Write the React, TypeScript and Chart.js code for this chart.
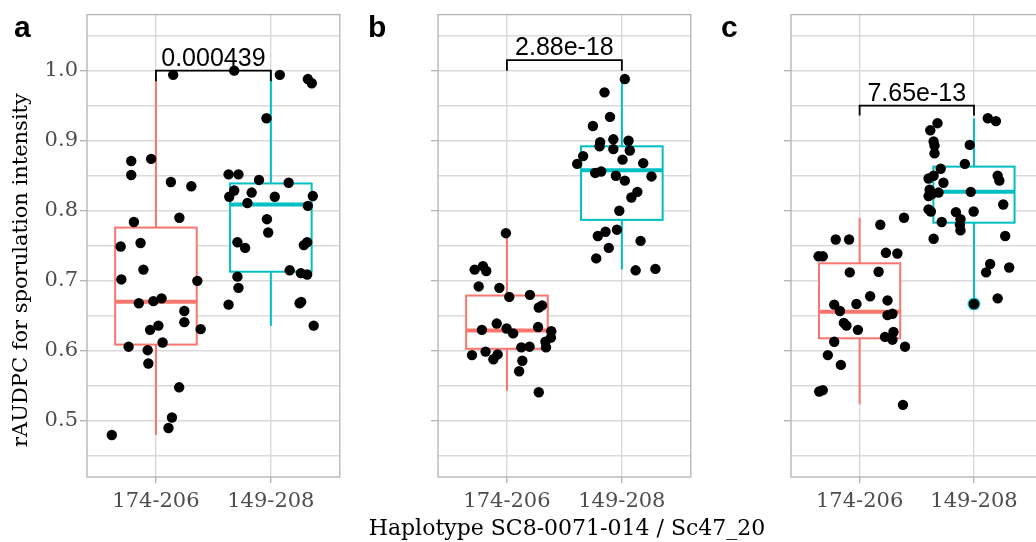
import React, { useEffect, useRef } from "react";
import { Chart, registerables } from "chart.js";
Chart.register(...registerables);

const CATEGORIES = ["174-206", "149-208"];
const GROUP_COLORS = ["#F8766D", "#00BFC4"];
const Y_GRID = [0.45, 0.5, 0.55, 0.6, 0.65, 0.7, 0.75, 0.8, 0.85, 0.9, 0.95, 1.0, 1.05];
const PANEL_LETTERS = ["a", "b", "c"];
const P_VALUES = ["0.000439", "2.88e-18", "7.65e-13"];
const BRACKET_Y = [1.0, 1.015, 0.95];
const BRACKET_TIP = [0.985, 1.0, 0.936];
const Y_TITLE = "rAUDPC for sporulation intensity";
const X_TITLE = "Haplotype SC8-0071-014 / Sc47_20";

// Panel a
const A1_X = [1.15, 0.785, 0.958, 0.785, 1.13, 1.308, 0.808, 1.204, 0.693, 0.866, 0.891, 0.699, 1.36, 0.851, 0.978, 1.049, 1.247, 1.247, 0.949, 1.021, 1.389, 1.058, 0.762, 0.928, 0.934, 1.202, 1.139, 1.109, 0.616];
const A1_Y = [0.994, 0.871, 0.874, 0.851, 0.841, 0.835, 0.784, 0.79, 0.749, 0.754, 0.716, 0.702, 0.7, 0.668, 0.671, 0.675, 0.657, 0.641, 0.63, 0.636, 0.631, 0.612, 0.606, 0.601, 0.582, 0.548, 0.505, 0.49, 0.48];
const A2_X = [1.681, 2.078, 2.322, 2.356, 1.962, 1.632, 1.718, 1.638, 1.681, 1.833, 1.897, 2.155, 2.034, 2.365, 1.796, 2.322, 1.966, 1.977, 1.709, 1.776, 2.287, 2.316, 2.164, 2.261, 2.316, 1.709, 1.718, 1.632, 2.25, 2.264, 2.373];
const A2_Y = [1.0, 0.994, 0.988, 0.982, 0.932, 0.852, 0.852, 0.82, 0.829, 0.826, 0.844, 0.84, 0.82, 0.821, 0.811, 0.807, 0.788, 0.769, 0.755, 0.747, 0.751, 0.755, 0.715, 0.711, 0.709, 0.706, 0.69, 0.666, 0.668, 0.67, 0.636];
const A_BOX_1 = [0.48, 0.609, 0.67, 0.776, 0.994];
const A_BOX_2 = [0.636, 0.713, 0.809, 0.839, 1.0];

// Panel b
const B1_X = [0.991, 0.719, 0.791, 0.82, 0.754, 0.934, 1.02, 1.2, 1.277, 1.306, 0.782, 0.911, 0.997, 1.054, 1.271, 1.386, 1.383, 1.335, 1.34, 1.125, 1.197, 0.696, 0.814, 0.882, 0.919, 1.134, 1.106, 1.277];
const B1_Y = [0.768, 0.716, 0.721, 0.714, 0.692, 0.69, 0.677, 0.68, 0.662, 0.665, 0.63, 0.639, 0.632, 0.625, 0.634, 0.628, 0.619, 0.613, 0.605, 0.605, 0.606, 0.594, 0.599, 0.588, 0.595, 0.586, 0.571, 0.541];
const B2_X = [2.026, 1.849, 1.897, 1.748, 1.811, 1.806, 1.926, 2.058, 1.926, 2.069, 1.663, 1.611, 2.006, 2.186, 1.768, 1.82, 1.948, 2.026, 2.258, 2.135, 2.083, 1.978, 1.957, 1.858, 1.791, 2.163, 1.886, 1.777, 2.12, 2.292];
const B2_Y = [0.988, 0.969, 0.934, 0.921, 0.898, 0.892, 0.902, 0.9, 0.888, 0.886, 0.878, 0.867, 0.873, 0.868, 0.854, 0.856, 0.85, 0.843, 0.849, 0.827, 0.819, 0.8, 0.773, 0.77, 0.764, 0.757, 0.747, 0.732, 0.715, 0.717];
const B_BOX_1 = [0.543, 0.603, 0.629, 0.679, 0.768];
const B_BOX_2 = [0.716, 0.787, 0.858, 0.892, 0.988];

// Panel c
const C1_X = [1.388, 1.181, 0.791, 0.908, 0.641, 0.678, 1.23, 1.33, 0.914, 1.166, 0.778, 0.828, 0.972, 1.092, 1.244, 1.244, 1.287, 0.862, 0.885, 0.985, 1.222, 1.296, 1.287, 0.778, 1.397, 0.722, 0.836, 0.647, 0.678, 1.379];
const C1_Y = [0.79, 0.78, 0.759, 0.759, 0.735, 0.735, 0.74, 0.739, 0.712, 0.713, 0.666, 0.657, 0.667, 0.678, 0.672, 0.651, 0.653, 0.64, 0.636, 0.63, 0.62, 0.627, 0.616, 0.613, 0.606, 0.594, 0.58, 0.542, 0.544, 0.523];
const C2_X = [2.121, 2.192, 1.681, 1.618, 1.647, 1.655, 1.655, 1.963, 1.92, 1.709, 1.603, 1.647, 1.733, 2.207, 2.222, 1.612, 1.632, 1.603, 1.69, 1.972, 2.256, 1.603, 1.623, 1.842, 1.997, 1.882, 1.877, 1.882, 1.718, 1.647, 2.273, 2.106, 2.141, 2.308, 2.207, 2.0];
const C2_Y = [0.932, 0.928, 0.925, 0.915, 0.899, 0.893, 0.882, 0.894, 0.867, 0.86, 0.846, 0.85, 0.84, 0.85, 0.843, 0.83, 0.824, 0.821, 0.826, 0.827, 0.809, 0.802, 0.799, 0.798, 0.799, 0.788, 0.78, 0.772, 0.784, 0.76, 0.764, 0.712, 0.724, 0.719, 0.675, 0.667];
const C_BOX_1 = [0.524, 0.618, 0.656, 0.725, 0.79];
const C_BOX_2 = [0.667, 0.783, 0.827, 0.863, 0.932];
const C_OUTLIER_X = [2];
const C_OUTLIER_Y = [0.667];

const GRID_COLOR = "#DADADA";
const BORDER_COLOR = "#B3B3B3";
const TICK_TEXT = "#4D4D4D";
const SERIF = "'DejaVu Serif', serif";
const SANS = "'Liberation Sans', Arial, sans-serif";
const BOX_HALF = 0.355;

const zip = (xs: number[], ys: number[]) => xs.map((x, i) => ({ x, y: ys[i] }));
const isMajor = (v: number) => Math.abs(v * 10 - Math.round(v * 10)) < 1e-6;

type PanelDef = {
  idx: number;
  left: number;
  width: number;
  axisW: number;
  letterX: number;
  groups: { xs: number[]; ys: number[] }[];
  boxes: number[][];
  outX: number[];
  outY: number[];
  showYLabels: boolean;
};

const PANELS: PanelDef[] = [
  { idx: 0, left: 0, width: 345, axisW: 87, letterX: 14, groups: [{ xs: A1_X, ys: A1_Y }, { xs: A2_X, ys: A2_Y }], boxes: [A_BOX_1, A_BOX_2], outX: [], outY: [], showYLabels: true },
  { idx: 1, left: 350, width: 346, axisW: 88, letterX: 18, groups: [{ xs: B1_X, ys: B1_Y }, { xs: B2_X, ys: B2_Y }], boxes: [B_BOX_1, B_BOX_2], outX: [], outY: [], showYLabels: false },
  { idx: 2, left: 700, width: 349, axisW: 91, letterX: 21, groups: [{ xs: C1_X, ys: C1_Y }, { xs: C2_X, ys: C2_Y }], boxes: [C_BOX_1, C_BOX_2], outX: C_OUTLIER_X, outY: C_OUTLIER_Y, showYLabels: false },
];

const HEIGHT = 542;

function makeDecor(p: PanelDef) {
  return {
    id: "decor" + p.idx,
    beforeDatasetsDraw(chart: any) {
      const { ctx, chartArea: ca } = chart;
      const x = chart.scales.x;
      const y = chart.scales.y;
      ctx.save();
      ctx.strokeStyle = BORDER_COLOR;
      ctx.lineWidth = 1.3;
      ctx.strokeRect(ca.left, ca.top, ca.right - ca.left, ca.bottom - ca.top);
      p.boxes.forEach((b, g) => {
        const cat = g + 1;
        const xl = x.getPixelForValue(cat - BOX_HALF);
        const xr = x.getPixelForValue(cat + BOX_HALF);
        const xc = x.getPixelForValue(cat);
        const [mn, q1, md, q3, mx] = b.map((v) => y.getPixelForValue(v));
        ctx.strokeStyle = GROUP_COLORS[g];
        ctx.lineWidth = 2;
        ctx.beginPath();
        ctx.moveTo(xc, mx);
        ctx.lineTo(xc, q3);
        ctx.moveTo(xc, q1);
        ctx.lineTo(xc, mn);
        ctx.stroke();
        ctx.fillStyle = "#FFFFFF";
        ctx.fillRect(xl, q3, xr - xl, q1 - q3);
        ctx.strokeRect(xl, q3, xr - xl, q1 - q3);
        ctx.lineWidth = 4;
        ctx.beginPath();
        ctx.moveTo(xl, md);
        ctx.lineTo(xr, md);
        ctx.stroke();
      });
      ctx.restore();
    },
    afterDatasetsDraw(chart: any) {
      const { ctx } = chart;
      const x = chart.scales.x;
      const y = chart.scales.y;
      const x1 = x.getPixelForValue(1);
      const x2 = x.getPixelForValue(2);
      const yb = y.getPixelForValue(BRACKET_Y[p.idx]);
      const yt = y.getPixelForValue(BRACKET_TIP[p.idx]);
      ctx.save();
      ctx.strokeStyle = "#000000";
      ctx.lineWidth = 1.8;
      ctx.beginPath();
      ctx.moveTo(x1, yt);
      ctx.lineTo(x1, yb);
      ctx.lineTo(x2, yb);
      ctx.lineTo(x2, yt);
      ctx.stroke();
      ctx.fillStyle = "#000000";
      ctx.font = `25px ${SANS}`;
      ctx.textAlign = "center";
      ctx.textBaseline = "alphabetic";
      ctx.fillText(P_VALUES[p.idx], (x1 + x2) / 2, yb - 5);
      ctx.restore();
    },
    afterDraw(chart: any) {
      const { ctx } = chart;
      ctx.save();
      ctx.fillStyle = "#000000";
      ctx.font = `bold 30px ${SANS}`;
      ctx.textAlign = "left";
      ctx.textBaseline = "alphabetic";
      ctx.fillText(PANEL_LETTERS[p.idx], p.letterX, 37);
      if (p.idx === 0) {
        ctx.font = `21px ${SERIF}`;
        ctx.textAlign = "center";
        ctx.textBaseline = "middle";
        ctx.translate(22, 270);
        ctx.rotate(-Math.PI / 2);
        ctx.fillText(Y_TITLE, 0, 0);
      }
      ctx.restore();
    },
  };
}

function Panel({ p }: { p: PanelDef }) {
  const ref = useRef<HTMLCanvasElement | null>(null);
  useEffect(() => {
    if (!ref.current) return;
    const datasets: any[] = [];
    const pts = p.groups.flatMap((g) => zip(g.xs, g.ys));
    datasets.push({
      type: "scatter",
      data: pts,
      backgroundColor: "#000000",
      borderWidth: 0,
      pointRadius: 5.2,
      order: 0,
    });
    if (p.outX.length) {
      datasets.push({
        type: "scatter",
        data: zip(p.outX, p.outY),
        backgroundColor: GROUP_COLORS[1],
        borderWidth: 0,
        pointRadius: 6.4,
        order: 1,
      });
    }
    const chart = new Chart(ref.current, {
      type: "scatter",
      data: { datasets },
      options: {
        animation: false,
        responsive: false,
        devicePixelRatio: 1,
        layout: { padding: { top: 14, right: 3, left: 0, bottom: 0 } },
        plugins: { legend: { display: false }, tooltip: { enabled: false } },
        scales: {
          x: {
            type: "linear",
            min: 0.4,
            max: 2.6,
            afterBuildTicks: (s: any) => {
              s.ticks = CATEGORIES.map((_, i) => ({ value: i + 1 }));
            },
            afterFit: (s: any) => {
              s.height = 65;
            },
            ticks: {
              callback: (_v: any, i: number) => CATEGORIES[i],
              font: { family: SERIF, size: 21 },
              color: TICK_TEXT,
              padding: 6,
              maxRotation: 0,
              autoSkip: false,
            },
            grid: { color: GRID_COLOR, lineWidth: 1.4, tickLength: 6, tickColor: BORDER_COLOR, tickWidth: 1.3 },
            border: { display: false },
          },
          y: {
            type: "linear",
            min: 0.42,
            max: 1.08,
            afterBuildTicks: (s: any) => {
              s.ticks = Y_GRID.map((v) => ({ value: v }));
            },
            afterFit: (s: any) => {
              s.width = p.axisW;
            },
            ticks: {
              callback: (v: any) => (p.showYLabels && isMajor(Number(v)) ? Number(v).toFixed(1) : ""),
              font: { family: SERIF, size: 21 },
              color: TICK_TEXT,
              padding: 2,
              autoSkip: false,
            },
            grid: {
              color: GRID_COLOR,
              lineWidth: 1.4,
              tickLength: 7,
              tickWidth: 1.3,
              tickColor: (c: any) => (c.tick && isMajor(c.tick.value) ? BORDER_COLOR : "rgba(0,0,0,0)"),
            },
            border: { display: false },
          },
        },
      },
      plugins: [makeDecor(p)],
    } as any);
    return () => chart.destroy();
  }, [p]);
  return (
    <canvas
      ref={ref}
      width={p.width}
      height={HEIGHT}
      style={{ position: "absolute", left: p.left, top: 0, width: p.width, height: HEIGHT }}
    />
  );
}

export default function App() {
  return (
    <div
      style={{
        position: "fixed",
        left: 0,
        top: 0,
        width: 1036,
        height: HEIGHT,
        overflow: "hidden",
        background: "#FFFFFF",
      }}
    >
      {PANELS.map((p) => (
        <Panel key={p.idx} p={p} />
      ))}
      <div
        style={{
          position: "absolute",
          left: 267,
          top: 515,
          width: 600,
          textAlign: "center",
          fontFamily: SERIF,
          fontSize: 22,
          lineHeight: "26px",
          color: "#000000",
          whiteSpace: "nowrap",
        }}
      >
        {X_TITLE}
      </div>
    </div>
  );
}
